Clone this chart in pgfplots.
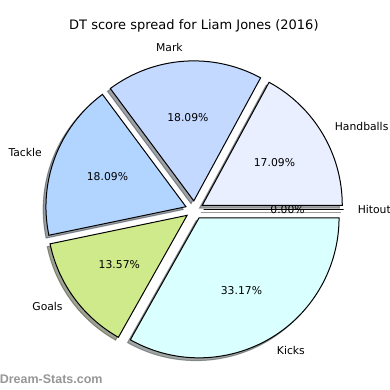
\documentclass[border=0pt]{standalone}
\usepackage{pgfplots}
\pgfplotsset{compat=1.18}
\usepackage{pgfplotstable}
\usepackage{fontspec}
\setmainfont{DejaVu Sans}
\newfontfamily\wmfont{Liberation Sans}
\definecolor{cHand}{RGB}{234,239,255}
\definecolor{cMark}{RGB}{196,217,255}
\definecolor{cTack}{RGB}{178,213,255}
\definecolor{cGoal}{RGB}{206,234,138}
\definecolor{cKick}{RGB}{218,255,255}
\definecolor{cHit}{RGB}{255,220,200}
\definecolor{wmgray}{RGB}{150,150,150}
\pgfkeys{/pgf/number format/assume math mode=true}

\pgfplotstableread{
label value color
Handballs 34 cHand
Mark 36 cMark
Tackle 36 cTack
Goals 27 cGoal
Kicks 66 cKick
Hitout 0 cHit
}\piedata

\def\pieexp{0.065}
\def\pieshad{0.02}
\def\pieR{140pt}

\begin{document}
\pgfplotstablegetrowsof{\piedata}%
\pgfmathtruncatemacro\pieLast{\pgfplotsretval-1}%
\gdef\pieTotal{0}%
\foreach \i in {0,...,\pieLast}{%
  \pgfplotstablegetelem{\i}{value}\of\piedata
  \pgfmathsetmacro\tmp{\pieTotal+\pgfplotsretval}%
  \xdef\pieTotal{\tmp}%
}%
\gdef\pieCum{0}%
\foreach \i in {0,...,\pieLast}{%
  \pgfplotstablegetelem{\i}{value}\of\piedata
  \let\pieV\pgfplotsretval
  \pgfmathsetmacro\sa{\pieCum/\pieTotal*360}%
  \pgfmathsetmacro\ea{(\pieCum+\pieV)/\pieTotal*360}%
  \pgfmathsetmacro\ma{(\sa+\ea)/2}%
  \pgfmathsetmacro\pc{\pieV*100/\pieTotal}%
  \pgfmathsetmacro\ox{\pieexp*cos(\ma)}%
  \pgfmathsetmacro\oy{\pieexp*sin(\ma)}%
  \pgfmathsetmacro\sx{\ox-\pieshad}%
  \pgfmathsetmacro\sy{\oy-\pieshad}%
  \pgfmathsetmacro\lx{\ox+1.1*cos(\ma)}%
  \pgfmathsetmacro\ly{\oy+1.1*sin(\ma)}%
  \pgfmathsetmacro\px{\ox+0.6*cos(\ma)}%
  \pgfmathsetmacro\py{\oy+0.6*sin(\ma)}%
  \expandafter\xdef\csname pieS\i\endcsname{\sa}%
  \expandafter\xdef\csname pieE\i\endcsname{\ea}%
  \expandafter\xdef\csname pieP\i\endcsname{\pc}%
  \expandafter\xdef\csname pieOX\i\endcsname{\ox}%
  \expandafter\xdef\csname pieOY\i\endcsname{\oy}%
  \expandafter\xdef\csname pieSX\i\endcsname{\sx}%
  \expandafter\xdef\csname pieSY\i\endcsname{\sy}%
  \expandafter\xdef\csname pieLX\i\endcsname{\lx}%
  \expandafter\xdef\csname pieLY\i\endcsname{\ly}%
  \expandafter\xdef\csname piePX\i\endcsname{\px}%
  \expandafter\xdef\csname piePY\i\endcsname{\py}%
  \ifdim\lx pt<0pt
    \expandafter\xdef\csname pieA\i\endcsname{east}%
  \else
    \expandafter\xdef\csname pieA\i\endcsname{west}%
  \fi
  \pgfplotstablegetelem{\i}{label}\of\piedata
  \expandafter\xdef\csname pieL\i\endcsname{\pgfplotsretval}%
  \pgfplotstablegetelem{\i}{color}\of\piedata
  \expandafter\xdef\csname pieC\i\endcsname{\pgfplotsretval}%
  \pgfmathsetmacro\tmp{\pieCum+\pieV}%
  \xdef\pieCum{\tmp}%
}%
\begin{tikzpicture}
\useasboundingbox (0,0) rectangle (390pt,390pt);
\begin{axis}[
  at={(0,0)}, anchor=south west,
  hide axis, scale only axis,
  x=140pt, y=140pt, disabledatascaling,
  xmin=-1.389, xmax=1.396, ymin=-1.286, ymax=1.5,
  clip=false,
]
% shadows
\pgfplotsinvokeforeach{0,...,\pieLast}{%
  \edef\piecmd{\noexpand\filldraw[fill=\csname pieC#1\endcsname!30!black, draw=\csname pieC#1\endcsname!30!black, opacity=0.5, line width=1pt]
    (axis cs:\csname pieSX#1\endcsname,\csname pieSY#1\endcsname) -- ++(\csname pieS#1\endcsname:\pieR)
    arc[start angle=\csname pieS#1\endcsname, end angle=\csname pieE#1\endcsname, radius=\pieR] -- cycle;}%
  \piecmd
}
% wedges
\pgfplotsinvokeforeach{0,...,\pieLast}{%
  \edef\piecmd{\noexpand\filldraw[fill=\csname pieC#1\endcsname, draw=black, line width=1pt, line join=miter]
    (axis cs:\csname pieOX#1\endcsname,\csname pieOY#1\endcsname) -- ++(\csname pieS#1\endcsname:\pieR)
    arc[start angle=\csname pieS#1\endcsname, end angle=\csname pieE#1\endcsname, radius=\pieR] -- cycle;}%
  \piecmd
}
% labels and percentages
\pgfplotsinvokeforeach{0,...,\pieLast}{%
  \node[anchor=\csname pieA#1\endcsname, inner sep=0pt, font=\fontsize{10.8}{13}\selectfont]
    at (axis cs:\csname pieLX#1\endcsname,\csname pieLY#1\endcsname) {\csname pieL#1\endcsname};
  \node[anchor=center, inner sep=0pt, font=\fontsize{10.8}{13}\selectfont]
    at (axis cs:\csname piePX#1\endcsname,\csname piePY#1\endcsname)
    {\pgfmathprintnumber[fixed,fixed zerofill,precision=2]{\csname pieP#1\endcsname}\%};
}
\node[anchor=base, inner sep=0pt, font=\fontsize{13}{15}\selectfont]
  at (axis cs:-0.004,1.289) {DT score spread for Liam Jones (2016)};
\node[anchor=base west, inner sep=0pt, text=wmgray, font=\wmfont\bfseries\fontsize{12.5}{14}\selectfont]
  at (axis cs:-1.392,-1.243) {Dream-Stats.com};
\end{axis}
\end{tikzpicture}
\end{document}
